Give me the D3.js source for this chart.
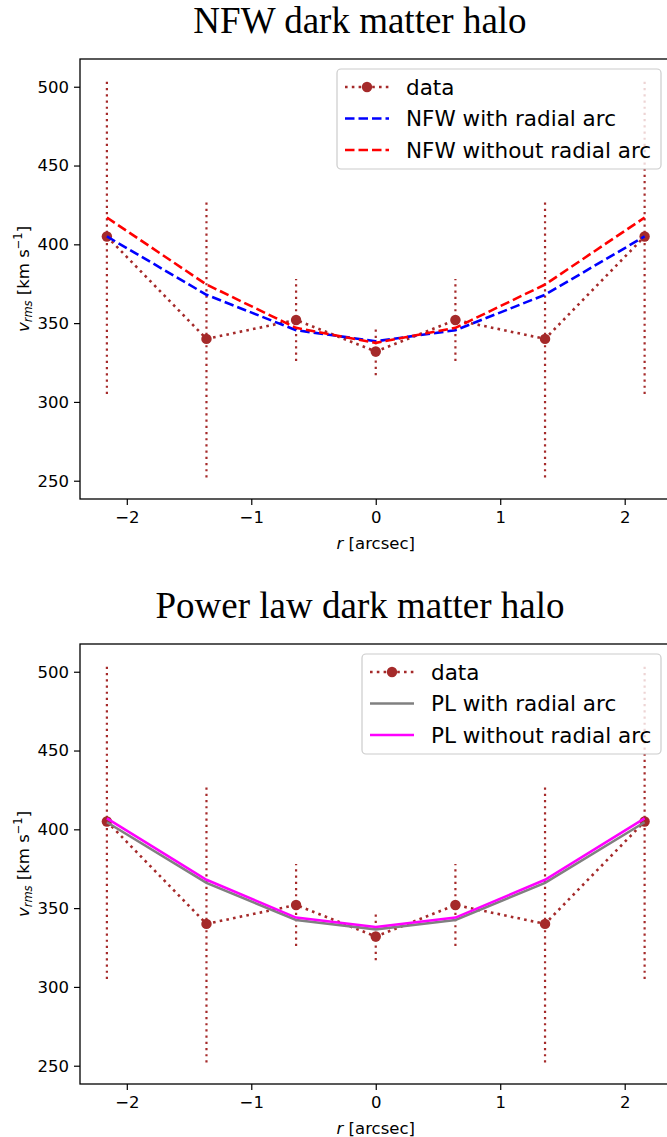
<!DOCTYPE html>
<html>
<head>
<meta charset="utf-8">
<script src="https://cdn.jsdelivr.net/npm/d3@7"></script>
<style>
  html, body { margin: 0; padding: 0; background: #fff; }
  svg { display: block; }
</style>
</head>
<body>
<svg id="chart" width="667" height="1137"></svg>
<script>
// ---------------- data ----------------
const radii = [-2.16, -1.36, -0.64, 0, 0.64, 1.36, 2.16];
const vData = [405, 340, 352, 332, 352, 340, 405];
const vErr = [100, 88, 26, 15, 26, 88, 100];

const nfwWithArc = [405, 368, 345.5, 338.5, 345.5, 368, 405];
const nfwWithoutArc = [417, 374.5, 347, 337.5, 347, 374.5, 417];

const plWithArc = [404.5, 366, 342.5, 336.5, 342.5, 366, 404.5];
const plWithoutArc = [407, 368, 344, 338, 344, 368, 407];

const xTicks = [-2, -1, 0, 1, 2];
const yTicks = [250, 300, 350, 400, 450, 500];
const xDomain = [-2.376, 2.376];
const yDomain = [238.4, 517.6];

const titles = ["NFW dark matter halo", "Power law dark matter halo"];
const legendNFW = ["data", "NFW with radial arc", "NFW without radial arc"];
const legendPL = ["data", "PL with radial arc", "PL without radial arc"];

// ---------------- drawing ----------------
const svg = d3.select("#chart");
const FONT = "'DejaVu Sans', sans-serif";
const BROWN = "#a52a2a";

function panel(cfg) {
  const g = svg.append("g");
  const x = d3.scaleLinear().domain(xDomain).range([cfg.left, cfg.right]);
  const y = d3.scaleLinear().domain(yDomain).range([cfg.bottom, cfg.top]);

  // title
  g.append("text")
    .attr("x", 360).attr("y", cfg.top - 26)
    .attr("text-anchor", "middle")
    .attr("font-family", "'Liberation Serif', 'Times New Roman', serif")
    .attr("font-size", 37)
    .attr("fill", "#000")
    .text(cfg.title);

  const clipId = "clip" + cfg.idx;
  g.append("clipPath").attr("id", clipId)
    .append("rect").attr("x", cfg.left).attr("y", cfg.top)
    .attr("width", cfg.right - cfg.left).attr("height", cfg.bottom - cfg.top);
  const plot = g.append("g").attr("clip-path", `url(#${clipId})`);

  // error bars
  plot.selectAll("line.err").data(radii).join("line")
    .attr("class", "err")
    .attr("x1", d => x(d)).attr("x2", d => x(d))
    .attr("y1", (d, i) => y(vData[i] - vErr[i]))
    .attr("y2", (d, i) => y(vData[i] + vErr[i]))
    .attr("stroke", BROWN).attr("stroke-width", 2.2)
    .attr("stroke-dasharray", "2.2,4");

  const line = arr => d3.line().x((d, i) => x(radii[i])).y(d => y(d))(arr);

  // data line
  plot.append("path").attr("d", line(vData))
    .attr("fill", "none").attr("stroke", BROWN)
    .attr("stroke-width", 2.6).attr("stroke-dasharray", "2.6,4.2");
  plot.selectAll("circle.pt").data(vData).join("circle")
    .attr("class", "pt")
    .attr("cx", (d, i) => x(radii[i])).attr("cy", d => y(d))
    .attr("r", 5.2).attr("fill", BROWN);

  // models
  cfg.models.forEach(m => {
    plot.append("path").attr("d", line(m.values))
      .attr("fill", "none").attr("stroke", m.color)
      .attr("stroke-width", 2.6)
      .attr("stroke-dasharray", m.dash || null);
  });

  // axes
  const xAxis = d3.axisBottom(x).tickValues(xTicks).tickSize(6).tickPadding(6)
    .tickFormat(d => d < 0 ? "\u2212" + Math.abs(d) : String(d));
  const gx = g.append("g").attr("transform", `translate(0,${cfg.bottom})`).call(xAxis);
  const yAxis = d3.axisLeft(y).tickValues(yTicks).tickSize(6).tickPadding(5);
  const gy = g.append("g").attr("transform", `translate(${cfg.left},0)`).call(yAxis);
  [gx, gy].forEach(a => {
    a.select(".domain").remove();
    a.selectAll("line").attr("stroke", "#000").attr("stroke-width", 1.2);
    a.selectAll("text").attr("font-family", FONT).attr("font-size", 16.5).attr("fill", "#000");
  });

  // frame (top, left, bottom; right lies beyond the canvas)
  g.append("rect")
    .attr("x", cfg.left).attr("y", cfg.top)
    .attr("width", cfg.right - cfg.left).attr("height", cfg.bottom - cfg.top)
    .attr("fill", "none").attr("stroke", "#000").attr("stroke-width", 1.3);

  // x label
  const xl = g.append("text")
    .attr("x", x(0)).attr("y", cfg.bottom + 50)
    .attr("text-anchor", "middle")
    .attr("font-family", FONT).attr("font-size", 16.5).attr("fill", "#000");
  xl.append("tspan").attr("font-style", "italic").text("r");
  xl.append("tspan").text(" [arcsec]");

  // y label
  const yl = g.append("text")
    .attr("transform", `translate(29,${(cfg.top + cfg.bottom) / 2}) rotate(-90)`)
    .attr("text-anchor", "middle")
    .attr("font-family", FONT).attr("font-size", 16.5).attr("fill", "#000");
  yl.append("tspan").attr("font-style", "italic").text("v");
  yl.append("tspan").attr("font-style", "italic").attr("font-size", 11.5).attr("dy", 3).text("rms");
  yl.append("tspan").attr("dy", -3).text(" [km s");
  yl.append("tspan").attr("font-size", 11.5).attr("dy", -7).text("\u22121");
  yl.append("tspan").attr("dy", 7).text("]");

  // legend
  const L = cfg.legend;
  const lg = g.append("g");
  lg.append("rect")
    .attr("x", L.x).attr("y", L.y).attr("width", L.w).attr("height", L.h)
    .attr("rx", 4).attr("fill", "#fff").attr("fill-opacity", 0.8)
    .attr("stroke", "#cccccc").attr("stroke-width", 1.2);
  const rowY = i => L.y + 18 + i * 31.5;
  const hx0 = L.x + L.pad, hx1 = L.x + L.pad + 44;
  const items = [{ color: BROWN, dot: true }].concat(cfg.models);
  items.forEach((it, i) => {
    const yy = rowY(i);
    lg.append("line").attr("x1", hx0).attr("x2", hx1).attr("y1", yy).attr("y2", yy)
      .attr("stroke", it.color).attr("stroke-width", 2.6)
      .attr("stroke-dasharray", it.dot ? "2.6,4.2" : (it.dash || null));
    if (it.dot) lg.append("circle").attr("cx", (hx0 + hx1) / 2).attr("cy", yy).attr("r", 5.2).attr("fill", BROWN);
    lg.append("text").attr("x", hx1 + 17).attr("y", yy)
      .attr("dominant-baseline", "central")
      .attr("font-family", FONT).attr("font-size", 21.5).attr("fill", "#000")
      .text(L.labels[i]);
  });
}

panel({
  idx: 0, left: 80, right: 671.5, top: 59, bottom: 499, title: titles[0],
  models: [
    { values: nfwWithArc, color: "#0000ff", dash: "9.5,4" },
    { values: nfwWithoutArc, color: "#ff0000", dash: "9.5,4" }
  ],
  legend: { x: 337, y: 69, w: 324, h: 100, pad: 8, labels: legendNFW }
});

panel({
  idx: 1, left: 80, right: 671.5, top: 644, bottom: 1084, title: titles[1],
  models: [
    { values: plWithArc, color: "#808080" },
    { values: plWithoutArc, color: "#ff00ff" }
  ],
  legend: { x: 362, y: 654, w: 299, h: 100, pad: 8, labels: legendPL }
});
</script>
</body>
</html>
